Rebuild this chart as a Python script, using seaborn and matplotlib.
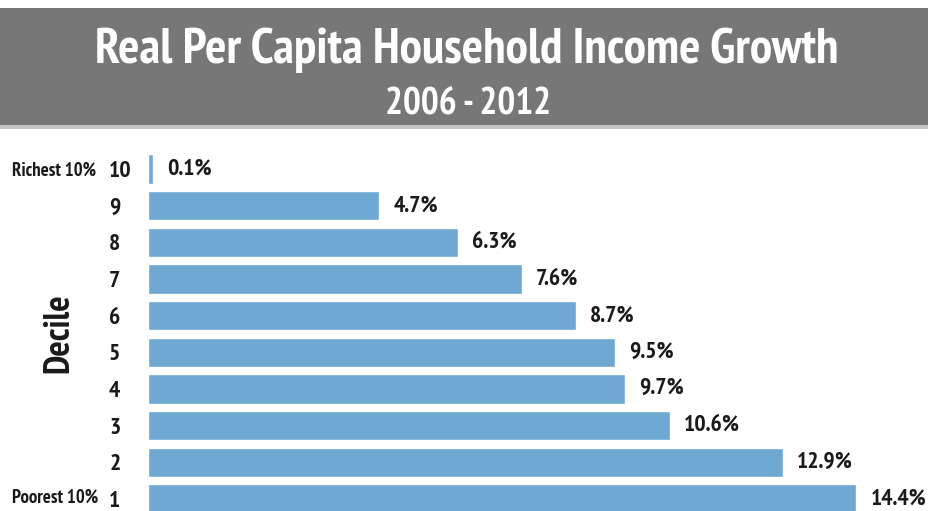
import matplotlib
matplotlib.use("Agg")
import matplotlib.pyplot as plt
from matplotlib import font_manager as fm
from matplotlib.patches import Rectangle
import seaborn as sns
import pandas as pd

# Data
deciles = ["10", "9", "8", "7", "6", "5", "4", "3", "2", "1"]
growth = [0.1, 4.7, 6.3, 7.6, 8.7, 9.5, 9.7, 10.6, 12.9, 14.4]
value_labels = ["0.1%", "4.7%", "6.3%", "7.6%", "8.7%", "9.5%", "9.7%", "10.6%", "12.9%", "14.4%"]
title = "Real Per Capita Household Income Growth"
subtitle = "2006 - 2012"
top_note = "Richest 10%"
bottom_note = "Poorest 10%"
axis_name = "Decile"

BAR = "#6fa8d3"
BANNER = "#777777"

sns.set_theme(style="white")


def pick_font():
    """Prefer the narrowest bold face available, fall back to DejaVu Sans Bold."""
    bold = [f for f in fm.fontManager.ttflist if f.weight in ("bold", 700)]
    preferences = [
        lambda f: "narrow" in f.name.lower(),
        lambda f: "condensed" in f.name.lower() and "roboto" in f.name.lower(),
        lambda f: "condensed" in f.name.lower(),
        lambda f: f.stretch in ("condensed", "semi-condensed"),
    ]
    for test in preferences:
        hits = sorted(f.fname for f in bold if test(f))
        if hits:
            return fm.FontProperties(fname=hits[0])
    return fm.FontProperties(family="DejaVu Sans", weight="bold")


base = pick_font()


def fp(size):
    p = base.copy()
    p.set_size(size)
    return p


W, H = 929, 511
fig = plt.figure(figsize=(W / 100, H / 100), dpi=100)
fig.patch.set_facecolor("white")

# Header banner
fig.patches.append(Rectangle((0, 1 - 125 / H), 1, (125 - 8) / H, transform=fig.transFigure,
                             facecolor=BANNER, edgecolor="none", zorder=0))
fig.patches.append(Rectangle((0, 1 - 129 / H), 1, 4 / H, transform=fig.transFigure,
                             facecolor="#c4c4c4", edgecolor="none", zorder=0))
fig.text(467 / W, 1 - 50 / H, title, color="white", ha="center", va="center", fontproperties=fp(36))
fig.text(468 / W, 1 - 105 / H, subtitle, color="white", ha="center", va="center", fontproperties=fp(27))

ax = fig.add_axes([148 / W, 0, 1 - 148 / W, 1 - 150 / H])
df = pd.DataFrame({"decile": deciles, "growth": growth})
sns.barplot(data=df, x="growth", y="decile", order=deciles, orient="h",
            color=BAR, saturation=1, width=0.8, ax=ax)

ax.set_xlim(0, (W - 148) / 49.2)
ax.set_ylim(9.33, -0.52)
ax.set_xlabel("")
ax.set_ylabel("")
ax.set_xticks([])
for s in ax.spines.values():
    s.set_visible(False)
ax.tick_params(axis="y", length=0, pad=28)
ax.set_yticks(range(len(deciles)))
ax.set_yticklabels(deciles)
for t in ax.get_yticklabels():
    t.set_fontproperties(fp(17))
    t.set_horizontalalignment("left")
    t.set_color("#1a1a1a")

for i, (v, lab) in enumerate(zip(growth, value_labels)):
    ax.annotate(lab, (v, i), xytext=(10, 0), textcoords="offset points",
                ha="left", va="center", fontproperties=fp(17), color="#1a1a1a")

fig.text(12 / W, 1 - 171 / H, top_note, ha="left", va="center", fontproperties=fp(13.5), color="#1a1a1a")
fig.text(12 / W, 1 - 498 / H, bottom_note, ha="left", va="center", fontproperties=fp(13.5), color="#1a1a1a")
fig.text(59 / W, 1 - 333 / H, axis_name, rotation=90, ha="center", va="center", fontproperties=fp(26), color="#1a1a1a")

fig.savefig("out.png", dpi=100)
